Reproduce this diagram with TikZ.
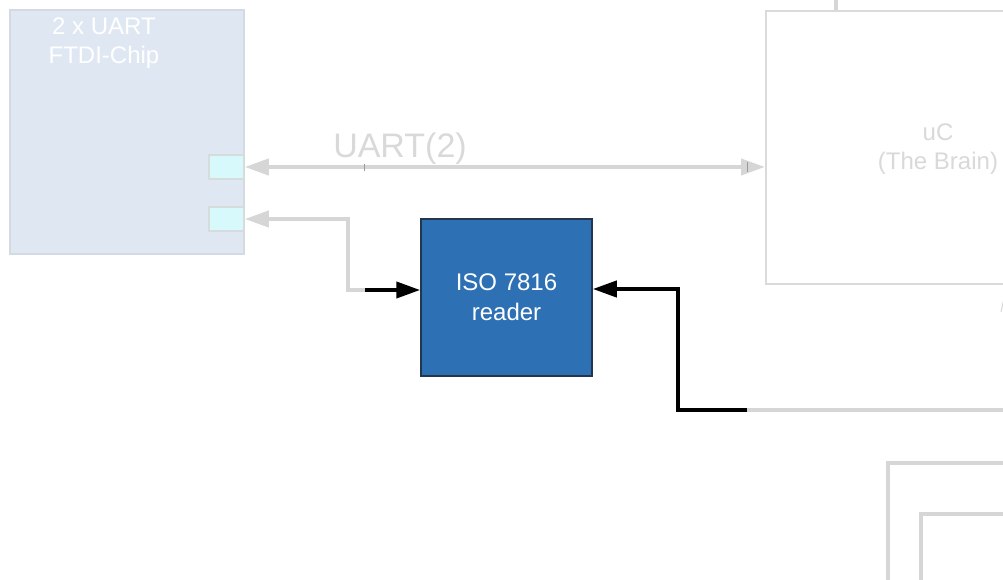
\documentclass[tikz,border=0pt]{standalone}
\usepackage{fontspec}
\setmainfont{Liberation Sans}
\usetikzlibrary{arrows.meta}
\definecolor{wire}{HTML}{D6D6D6}
\definecolor{wirefaint}{HTML}{DADADA}
\definecolor{ftdifill}{HTML}{DFE8F2}
\definecolor{ftdiedge}{HTML}{D3DAE2}
\definecolor{portfill}{HTML}{D7F9FB}
\definecolor{portedge}{HTML}{D6DCDC}
\definecolor{isofill}{HTML}{2D70B4}
\definecolor{isoedge}{HTML}{23364D}
\definecolor{ghosttext}{HTML}{D9D9D9}
\definecolor{tick}{HTML}{9A9A9A}
\tikzset{
  blockbox/.style={draw, rectangle, inner sep=0pt},
  ftdibox/.style={blockbox, fill=ftdifill, draw=ftdiedge, line width=1.5pt},
  portbox/.style={blockbox, fill=portfill, draw=portedge, line width=1.5pt,
    minimum width=35pt, minimum height=24pt},
  isobox/.style={blockbox, fill=isofill, draw=isoedge, line width=1.5pt,
    minimum width=171pt, minimum height=157pt},
  ucbox/.style={blockbox, fill=white, draw=wirefaint, line width=2pt,
    minimum width=344pt, minimum height=273pt},
  boxtext/.style={align=center, font=\fontsize{24}{29.5}\selectfont, inner sep=0pt},
  graywire/.style={draw=wire, line width=4pt},
  blackwire/.style={draw=black, line width=4pt},
  graytip/.style={-{Triangle[length=24pt,width=16pt]}},
  blacktip/.style={-{Triangle[length=24pt,width=16pt]}},
}
\begin{document}
\begin{tikzpicture}[x=1pt,y=-1pt]
\useasboundingbox (0,0) rectangle (1003,580);
\clip (0,0) rectangle (1003,580);

% off-page blocks on the lower right
\draw[graywire] (888,640) -- (888,463) -- (1060,463);
\draw[graywire] (921,640) -- (921,514) -- (1060,514);

% FTDI chip with its two UART ports
\node[ftdibox, minimum width=234pt, minimum height=244pt] (ftdi) at (127,132) {};
\node[boxtext, text=white] (ftdilabel) at (104,43) {2 x UART\\FTDI-Chip};
\node[portbox] (port1) at (226.5,167) {};
\node[portbox] (port2) at (226.5,219) {};

% microcontroller
\coordinate (uctop) at (836,-5);
\node[ucbox] (uc) at (938,147.5) {};
\node[boxtext, text=ghosttext] (uclabel) at (938,149) {uC\\(The Brain)};
\draw[graywire] (uctop) -- (uc.north -| uctop);

% ISO 7816 reader
\node[isobox] (iso) at (506.5,297.5) {};
\node[boxtext, text=white] (isolabel) at (506.5,297) {ISO 7816\\reader};

% UART(2) link between FTDI and uC
\draw[graywire, {Triangle[length=24pt,width=16pt]}-{Triangle[length=24pt,width=16pt]}]
  (port1.east) -- (port1.east -| uc.west);
\node[font=\fontsize{34}{40}\selectfont, text=ghosttext, inner sep=0pt] (uartlabel) at (400,149) {UART(2)};
\draw[tick, line width=1pt] (364,164) -- (364,171);
\draw[tick, line width=1pt] (747,162) -- (747,172);

% reader to FTDI port 2
\coordinate (bendA) at (348,219);
\coordinate (bendB) at (348,290);
\coordinate (splitL) at (365,290);
\draw[graywire, graytip] (splitL) -- (bendB) -- (bendA) -- (port2.east);
\draw[blackwire, blacktip] (splitL) -- (iso.west |- splitL);

% uC side into the reader
\coordinate (splitR) at (747,410);
\coordinate (farR) at (1010,410);
\coordinate (bendC) at (678,410);
\coordinate (bendD) at (678,289);
\draw[graywire] (farR) -- (splitR);
\draw[blackwire, blacktip] (splitR) -- (bendC) -- (bendD) -- (iso.east |- bendD);

% fragment of a tip at the right edge
\coordinate (tipA) at (1004,298);
\coordinate (tipB) at (1001,312);
\draw[wire, line width=1pt] (tipA) -- (tipB);
\end{tikzpicture}
\end{document}
